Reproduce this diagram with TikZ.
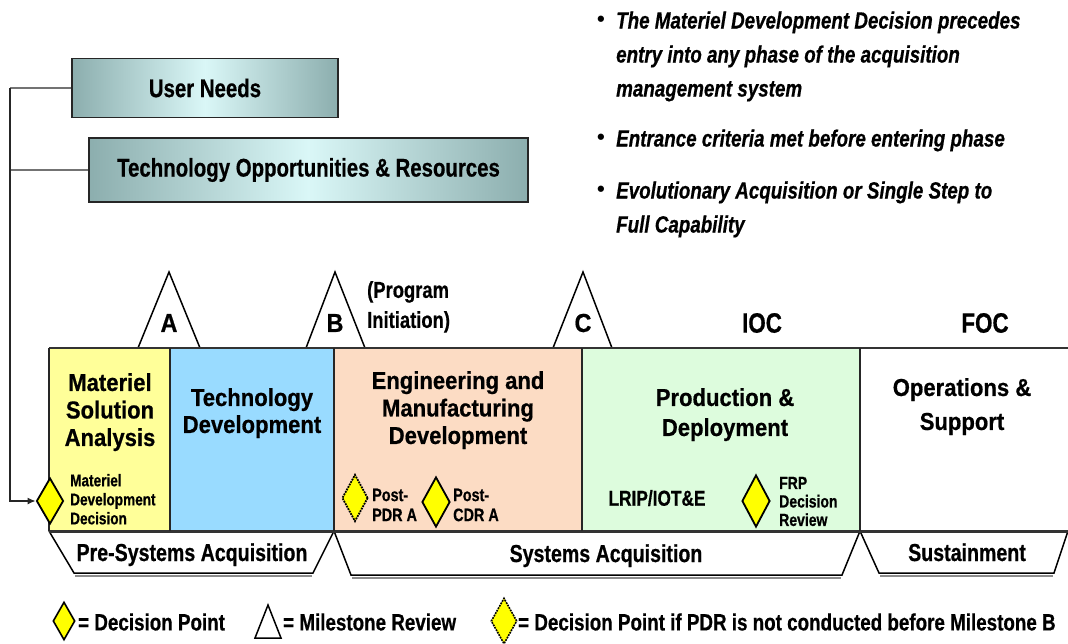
\documentclass[tikz,border=0pt]{standalone}
\usepackage{fontspec}
\setmainfont{Liberation Sans}
\newfontfamily\nar[FakeStretch=0.8,FakeBold=0.6]{Liberation Sans}
\newfontfamily\phf[FakeStretch=0.9,FakeBold=0.6]{Liberation Sans}
\usetikzlibrary{shapes.geometric,arrows.meta}
\definecolor{msa}{HTML}{FFFF99}
\definecolor{td}{HTML}{99DBFF}
\definecolor{emd}{HTML}{FCDCC4}
\definecolor{pd}{HTML}{DDFCDD}
\definecolor{dpy}{HTML}{FFFF00}
\definecolor{boxedge}{HTML}{8CAEAE}
\definecolor{boxmid}{HTML}{DAF7F7}
\begin{document}
\begin{tikzpicture}[x=1pt,y=-1pt,
 hdr/.style={draw=black!85, line width=1.8pt, left color=boxedge, right color=boxedge, middle color=boxmid, inner sep=0pt, font=\nar\bfseries\fontsize{25.5}{30}\selectfont},
 branch/.style={draw=black!55, line width=2.5pt},
 conn/.style={draw=black!85, line width=1.3pt},
 dp/.style={diamond, draw=black, line width=1.8pt, fill=dpy, inner sep=0pt},
 dpdash/.style={dp, densely dotted},
 ms/.style={draw=black, line width=1.5pt, fill=white, line join=miter},
 band/.style={draw=black!80, line width=2.6pt},
 divider/.style={draw=black!85, line width=2pt},
 phlbl/.style={font=\phf\bfseries\fontsize{24.5}{27.5}\selectfont, align=center, anchor=north, inner sep=0pt},
 small/.style={font=\nar\bfseries\fontsize{17.5}{19}\selectfont, align=left, anchor=north west, inner sep=0pt},
 mslbl/.style={font=\phf\bfseries\fontsize{26}{30}\selectfont, inner sep=0pt},
 ioclbl/.style={font=\nar\bfseries\fontsize{28}{32}\selectfont, inner sep=0pt},
 eralbl/.style={font=\nar\bfseries\fontsize{24.5}{28}\selectfont, anchor=base, inner sep=0pt},
 lgd/.style={font=\nar\bfseries\fontsize{23.5}{28}\selectfont, anchor=base west, inner sep=0pt},
 bul/.style={font=\nar\bfseries\itshape\fontsize{23.5}{34}\selectfont, align=left, anchor=north west, inner sep=0pt},
 dot/.style={font=\bfseries\fontsize{22}{24}\selectfont, inner sep=0pt},
]
\useasboundingbox (0,0) rectangle (1068,643);

% ---- header boxes
\node[hdr, minimum width=266, minimum height=59] (un) at (205,88) {User Needs};
\node[hdr, minimum width=439, minimum height=64] (tor) at (308.5,170) {Technology Opportunities \& Resources};

% ---- bullets
\node[dot] (d1) at (601,21) {\textbullet};
\node[bul] (t1) at (616,11.3) {The Materiel Development Decision precedes\\entry into any phase of the acquisition\\management system};
\node[dot] (d2) at (601,139) {\textbullet};
\node[bul] (t2) at (616,129.3) {Entrance criteria met before entering phase};
\node[dot] (d3) at (601,191) {\textbullet};
\node[bul] (t3) at (616,181.3) {Evolutionary Acquisition or Single Step to\\Full Capability};

% ---- phase fills
\fill[msa] (49,348) rectangle (170,531);
\fill[td] (170,348) rectangle (334,531);
\fill[emd] (334,348) rectangle (582,531);
\fill[pd] (582,348) rectangle (860,531);

% ---- milestone triangles
\draw[ms] (138,348) -- (169,272) -- (200,348);
\draw[ms] (306,348) -- (335,272) -- (365,348);
\draw[ms] (553,348) -- (583,272) -- (612,348);
\node[mslbl] (mA) at (169,323) {A};
\node[mslbl] (mB) at (335,323) {B};
\node[mslbl] (mC) at (583,323) {C};
\node[font=\nar\bfseries\fontsize{23}{30}\selectfont, align=left, anchor=north west, inner sep=0pt] (pi) at (367,281) {(Program\\Initiation)};
\node[ioclbl] (ioc) at (762,323) {IOC};
\node[ioclbl] (foc) at (985,323) {FOC};

% ---- era trapezoids
\draw[ms] (49,531) -- (74,573) -- (313,573) -- (334,531);
\draw[ms] (334,531) -- (351,575) -- (842,575) -- (860,531);
\draw[ms] (860,531) -- (879,573) -- (1054,573) -- (1068,531);
\draw[black!45, line width=2.5pt] (75,576) -- (312,576);
\draw[black!45, line width=2.5pt] (352,578) -- (841,578);
\draw[black!45, line width=2.5pt] (880,576) -- (1053,576);
\node[eralbl] (pre) at (192,561) {Pre-Systems Acquisition};
\node[eralbl] (sys) at (606,562) {Systems Acquisition};
\node[eralbl] (sus) at (967,561) {Sustainment};

% ---- band lines
\draw[band] (49,348) -- (1068,348);
\draw[band, line width=3pt] (49,531) -- (1068,531);
\foreach \xx in {49,170,334,582,860} \draw[divider] (\xx,348) -- (\xx,531);

% ---- phase labels
\node[phlbl] (lmsa) at (110,373) {Materiel\\Solution\\Analysis};
\node[phlbl, font=\phf\bfseries\fontsize{24.5}{27}\selectfont] (ltd) at (252,388) {Technology\\Development};
\node[phlbl] (lemd) at (458,371) {Engineering and\\Manufacturing\\Development};
\node[phlbl, font=\phf\bfseries\fontsize{24.5}{30}\selectfont] (lpd) at (725,388) {Production \&\\Deployment};
\node[phlbl, font=\phf\bfseries\fontsize{24.5}{34}\selectfont] (los) at (962,378) {Operations \&\\Support};

% ---- decision points
\node[dp, minimum width=27, minimum height=46] (mdd) at (50,501) {};
\node[small, font=\nar\bfseries\fontsize{17}{19}\selectfont] (lmdd) at (70,473.8) {Materiel\\Development\\Decision};
\node[dpdash, minimum width=26, minimum height=47] (pdr) at (355,498) {};
\node[small, font=\nar\bfseries\fontsize{18}{20}\selectfont] (lpdr) at (372,488.5) {Post-\\PDR A};
\node[dp, minimum width=28, minimum height=50] (cdr) at (436,502) {};
\node[small, font=\nar\bfseries\fontsize{18}{20}\selectfont] (lcdr) at (453,488.5) {Post-\\CDR A};
\node[dp, minimum width=28, minimum height=52] (frp) at (756,501) {};
\node[small, font=\nar\bfseries\fontsize{17.5}{18.5}\selectfont] (lfrp) at (779,476.7) {FRP\\Decision\\Review};
\node[font=\nar\bfseries\fontsize{21.6}{26}\selectfont, anchor=base, inner sep=0pt] (lrip) at (657,505.7) {LRIP/IOT\&E};

% ---- connectors
\coordinate (j0) at (10,88);
\coordinate (j1) at (10,170);
\coordinate (j2) at (10,501);
\draw[branch] (un.west) -- (j0);
\draw[branch] (tor.west) -- (j1);
\draw[conn, -{Latex[length=8pt,width=7pt]}] (j0) -- (j2) -- (mdd.west);

% ---- legend
\node[dp, line width=1.6pt, minimum width=22, minimum height=38] (lg1) at (64,621) {};
\node[lgd] (lt1) at (78,630.4) {= Decision Point};
\draw[ms] (255,638) -- (268,605) -- (281,638) -- cycle;
\node[lgd] (lt2) at (283,630.4) {= Milestone Review};
\node[dpdash, line width=1.6pt, minimum width=26, minimum height=46] (lg3) at (504,621) {};
\node[lgd] (lt3) at (518,630.4) {= Decision Point if PDR is not conducted before Milestone B};
\end{tikzpicture}
\end{document}
